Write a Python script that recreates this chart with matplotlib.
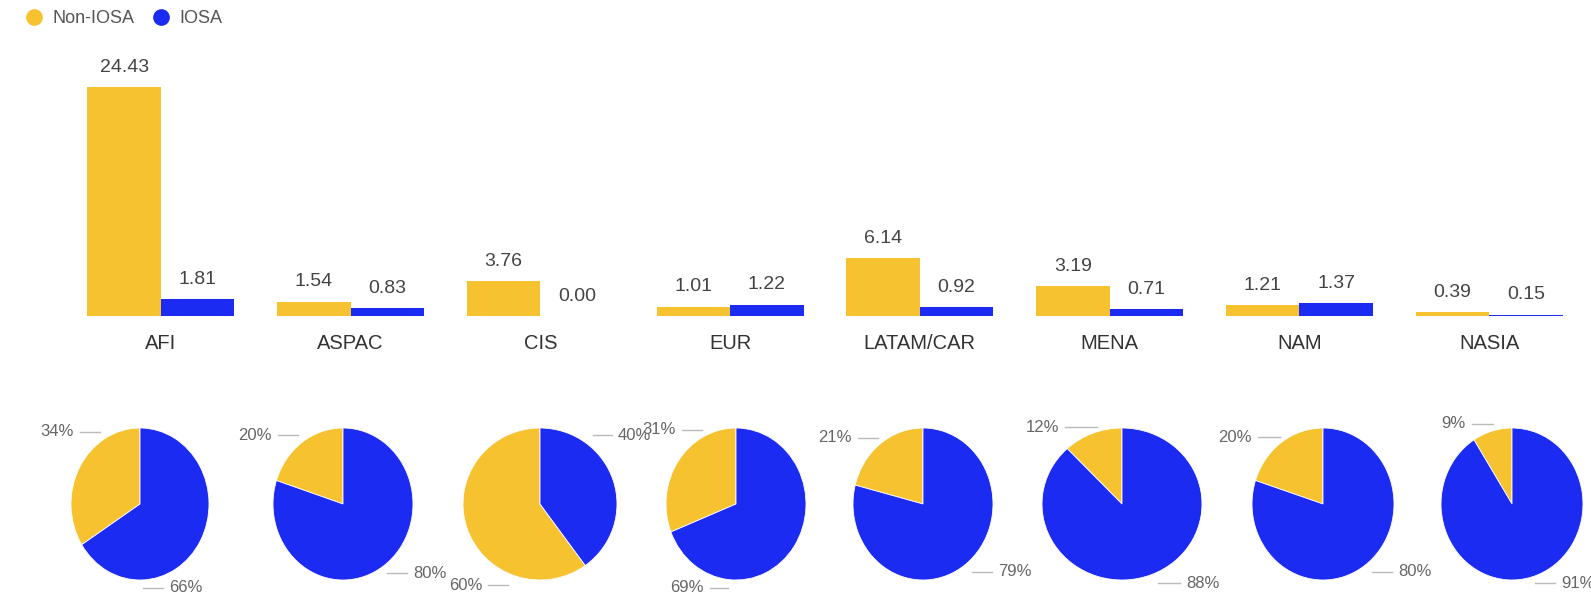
import matplotlib.pyplot as plt
from matplotlib.lines import Line2D

plt.rcParams['font.family'] = ['Liberation Sans', 'DejaVu Sans']

regions = ['AFI', 'ASPAC', 'CIS', 'EUR', 'LATAM/CAR', 'MENA', 'NAM', 'NASIA']
non_iosa = [24.43, 1.54, 3.76, 1.01, 6.14, 3.19, 1.21, 0.39]
iosa = [1.81, 0.83, 0.00, 1.22, 0.92, 0.71, 1.37, 0.15]
non_iosa_pct = [34, 20, 60, 31, 21, 12, 20, 9]
iosa_pct = [66, 80, 40, 69, 79, 88, 80, 91]

YELLOW = '#F7C22F'
BLUE = '#1C2BF2'
W, H = 1591, 601

fig = plt.figure(figsize=(W / 100, H / 100), dpi=100)

# bar chart
ax = fig.add_axes([66 / W, 285 / H, 1518 / W, 256 / H])
x = list(range(len(regions)))
bw = 0.387
b1 = ax.bar([i - bw / 2 for i in x], non_iosa, bw, color=YELLOW)
b2 = ax.bar([i + bw / 2 for i in x], iosa, bw, color=BLUE)
for bars in (b1, b2):
    ax.bar_label(bars, fmt='%.2f', padding=8, fontsize=14, color='#444444')
ax.set_xlim(-0.5, len(regions) - 0.5)
ax.set_ylim(0, 27.32)
ax.set_xticks(x)
ax.set_xticklabels(regions, fontsize=14.5, color='#333333')
ax.tick_params(axis='x', length=0, pad=13)
ax.set_yticks([])
for s in ax.spines.values():
    s.set_visible(False)

# pies (layout in pixels)
pie_cx = [140, 343, 540, 736, 923, 1122, 1323, 1512]
pie_rx = [69, 70, 77, 70, 70, 80, 71, 71]
pie_cy, pie_ry = 504, 76
# (inner x, outer x, y) of the leader line, relative to pie centre, px
non_lbl = [(-40, -60, -72), (-45, -65, -69), (-32, -52, 81), (-34, -54, -74),
           (-45, -65, -66), (-25, -57, -77), (-43, -65, -67), (-19, -40, -80)]
iosa_lbl = [(3, 23, 84), (44, 64, 69), (53, 72, -69), (-8, -26, 84),
            (49, 69, 68), (36, 58, 79), (49, 69, 68), (23, 43, 79)]

for i in range(len(regions)):
    cx, rx = pie_cx[i], pie_rx[i]
    pax = fig.add_axes([(cx - rx) / W, (H - pie_cy - pie_ry) / H,
                        2 * rx / W, 2 * pie_ry / H])
    pax.pie([non_iosa_pct[i], iosa_pct[i]], colors=[YELLOW, BLUE],
            startangle=90, counterclock=True,
            wedgeprops=dict(edgecolor='white', linewidth=0.6))
    pax.set_aspect('auto')
    pax.set_xlim(-1, 1)
    pax.set_ylim(-1, 1)
    pax.axis('off')
    for pct, (x0, x1, dy) in ((non_iosa_pct[i], non_lbl[i]),
                              (iosa_pct[i], iosa_lbl[i])):
        yy = (H - pie_cy - dy) / H
        fig.add_artist(Line2D([(cx + x0) / W, (cx + x1) / W], [yy, yy],
                              color='#bbbbbb', lw=1, transform=fig.transFigure))
        sgn = 1 if x1 > x0 else -1
        fig.text((cx + x1 + sgn * 6) / W, yy, f'{pct}%', fontsize=12,
                 color='#666666', va='center',
                 ha='left' if sgn > 0 else 'right')

handles = [Line2D([], [], marker='o', ls='', color=YELLOW, markersize=11),
           Line2D([], [], marker='o', ls='', color=BLUE, markersize=11)]
fig.legend(handles, ['Non-IOSA', 'IOSA'], loc='upper left',
           bbox_to_anchor=(0.0, 1.01), ncol=2, frameon=False, fontsize=13,
           handletextpad=0.0, columnspacing=0.5, labelcolor='#555555')

fig.savefig('out.png', dpi=100)
